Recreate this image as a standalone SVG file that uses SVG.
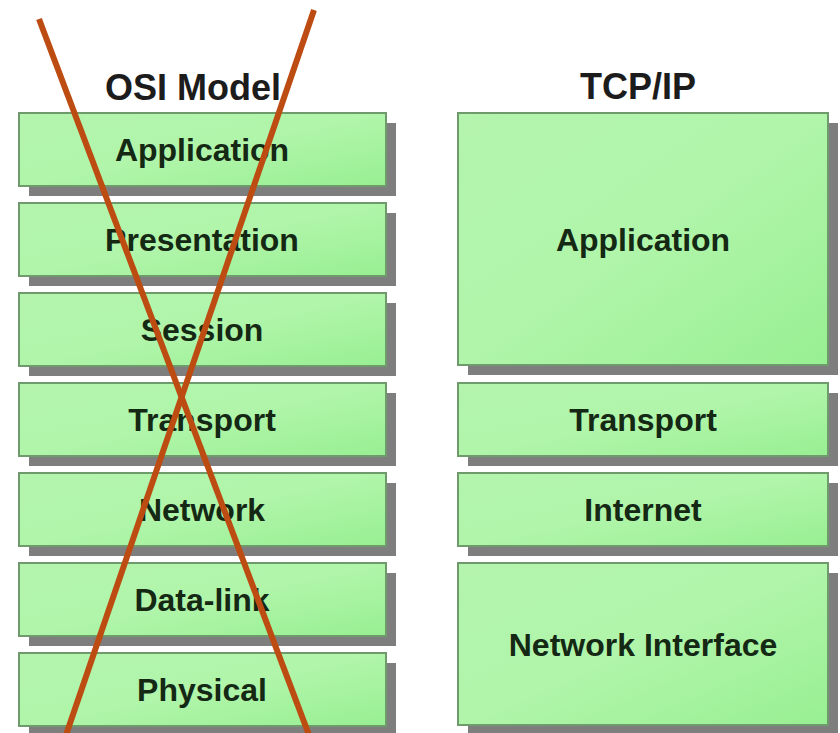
<svg xmlns="http://www.w3.org/2000/svg" width="840" height="733" viewBox="0 0 840 733">
<defs>
<linearGradient id="g" x1="0" y1="0" x2="1" y2="1">
<stop offset="0" stop-color="#b4f4ae"/>
<stop offset="0.5" stop-color="#b0f5aa"/>
<stop offset="1" stop-color="#98ef92"/>
</linearGradient>
<style>
.sh{fill:#7e7e7e;}
.bx{fill:url(#g);stroke:#6f9a6c;stroke-width:2;}
.lb{font-family:"Liberation Sans",Arial,sans-serif;font-weight:bold;font-size:32px;fill:#142814;text-anchor:middle;}
.tt{font-family:"Liberation Sans",Arial,sans-serif;font-weight:bold;font-size:36px;fill:#1c1c1c;text-anchor:middle;}
.x{stroke:#bd4c12;stroke-width:6;stroke-linecap:butt;fill:none;}
</style>
</defs>
<rect width="840" height="733" fill="#ffffff"/>
<text class="tt" x="193" y="100">OSI Model</text>
<text class="tt" x="638" y="99">TCP/IP</text>
<g id="osi-application"><rect class="sh" x="29" y="123" width="367" height="73"/><rect class="bx" x="19" y="113" width="367" height="73"/><text class="lb" x="202" y="161">Application</text></g>
<g id="osi-presentation"><rect class="sh" x="29" y="213" width="367" height="73"/><rect class="bx" x="19" y="203" width="367" height="73"/><text class="lb" x="202" y="251">Presentation</text></g>
<g id="osi-session"><rect class="sh" x="29" y="303" width="367" height="73"/><rect class="bx" x="19" y="293" width="367" height="73"/><text class="lb" x="202" y="341">Session</text></g>
<g id="osi-transport"><rect class="sh" x="29" y="393" width="367" height="73"/><rect class="bx" x="19" y="383" width="367" height="73"/><text class="lb" x="202" y="431">Transport</text></g>
<g id="osi-network"><rect class="sh" x="29" y="483" width="367" height="73"/><rect class="bx" x="19" y="473" width="367" height="73"/><text class="lb" x="202" y="521">Network</text></g>
<g id="osi-datalink"><rect class="sh" x="29" y="573" width="367" height="73"/><rect class="bx" x="19" y="563" width="367" height="73"/><text class="lb" x="202" y="611">Data-link</text></g>
<g id="osi-physical"><rect class="sh" x="29" y="663" width="367" height="73"/><rect class="bx" x="19" y="653" width="367" height="73"/><text class="lb" x="202" y="701">Physical</text></g>
<g id="tcp-application"><rect class="sh" x="468" y="123" width="370" height="252"/><rect class="bx" x="458" y="113" width="370" height="252"/><text class="lb" x="643" y="251">Application</text></g>
<g id="tcp-transport"><rect class="sh" x="468" y="393" width="370" height="73"/><rect class="bx" x="458" y="383" width="370" height="73"/><text class="lb" x="643" y="431">Transport</text></g>
<g id="tcp-internet"><rect class="sh" x="468" y="483" width="370" height="73"/><rect class="bx" x="458" y="473" width="370" height="73"/><text class="lb" x="643" y="521">Internet</text></g>
<g id="tcp-network-interface"><rect class="sh" x="468" y="573" width="370" height="162"/><rect class="bx" x="458" y="563" width="370" height="162"/><text class="lb" x="643" y="656">Network Interface</text></g>
<g id="connectors">
<line class="x" x1="39" y1="19" x2="309" y2="735"/>
<line class="x" x1="314" y1="10" x2="66" y2="735"/>
</g>
</svg>
